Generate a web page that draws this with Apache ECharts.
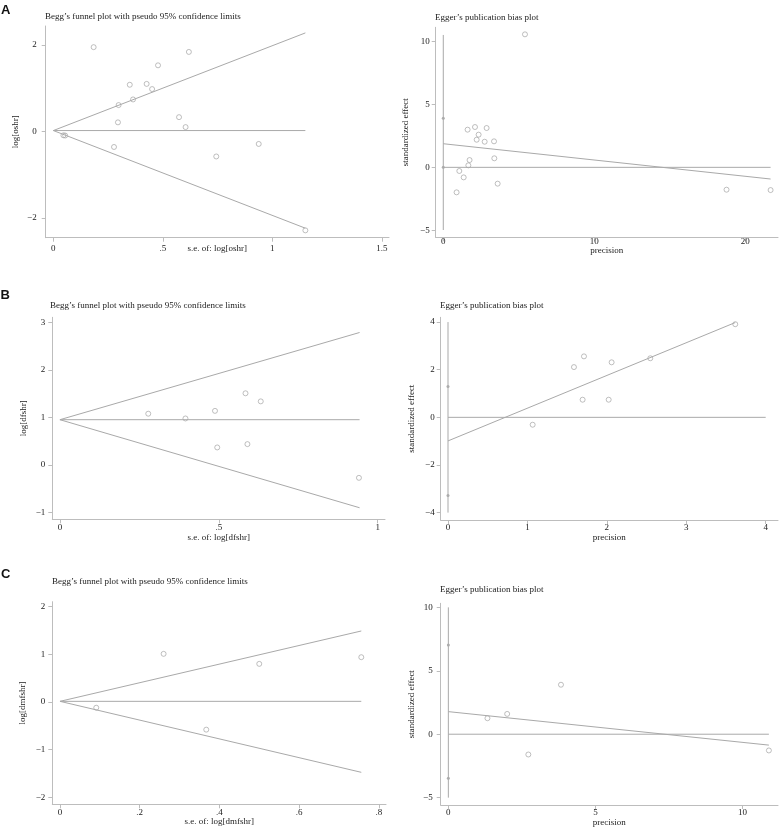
<!DOCTYPE html>
<html><head><meta charset="utf-8">
<script src="https://cdn.jsdelivr.net/npm/echarts@6/dist/echarts.min.js"></script>
<style>html,body{margin:0;padding:0;background:#fff}#c{width:779px;height:828px}</style>
</head><body><div id="c"></div>
<script>
// ---------- DATA ----------
// Panel A – Begg's funnel (OS)
const A_se    = [0.184, 0.619, 0.478, 0.349, 0.426, 0.451, 0.364, 0.298, 0.574, 0.295, 0.604, 0.046, 0.054, 0.277, 0.744, 0.938, 1.151];
const A_logHR = [1.95, 1.84, 1.53, 1.08, 1.10, 0.98, 0.74, 0.61, 0.33, 0.21, 0.10, -0.09, -0.095, -0.36, -0.58, -0.29, -2.29];
const A_funnelUpper  = [[0, 0.02], [1.151, 2.28]];
const A_funnelLower  = [[0, 0.02], [1.151, -2.24]];
const A_funnelCenter = [[0, 0.02], [1.151, 0.02]];
// Panel A – Egger
const A_prec = [5.41, 1.61, 2.10, 2.87, 2.34, 2.21, 2.74, 3.36, 1.74, 3.38, 1.66, 1.06, 1.35, 0.88, 3.60, 18.76, 21.68];
const A_std  = [10.59, 3.00, 3.21, 3.13, 2.60, 2.20, 2.04, 2.07, 0.58, 0.72, 0.16, -0.29, -0.80, -1.99, -1.30, -1.78, -1.81];
const A_eggReg   = [[0, 1.88], [21.68, -0.93]];
const A_eggZero  = [[0, 0], [21.68, 0]];
const A_eggCI    = [[0, -4.99], [0, 10.54]];
const A_eggDots  = [[0, 3.9], [0, 0]];

// Panel B – Begg's funnel (DFS)
const B_se    = [0.278, 0.395, 0.488, 0.584, 0.632, 0.495, 0.590, 0.941];
const B_logHR = [1.08, 0.98, 1.14, 1.51, 1.34, 0.37, 0.44, -0.27];
const B_funnelUpper  = [[0, 0.954], [0.943, 2.79]];
const B_funnelLower  = [[0, 0.954], [0.943, -0.90]];
const B_funnelCenter = [[0, 0.954], [0.943, 0.954]];
// Panel B – Egger
const B_prec = [3.617, 2.547, 2.06, 1.712, 1.586, 2.023, 1.695, 1.066];
const B_std  = [3.91, 2.48, 2.31, 2.56, 2.11, 0.74, 0.74, -0.31];
const B_eggReg  = [[0, -0.99], [3.617, 3.98]];
const B_eggZero = [[0, 0], [4.0, 0]];
const B_eggCI   = [[0, -4], [0, 4]];
const B_eggDots = [[0, 1.29], [0, -3.28]];

// Panel C – Begg's funnel (DMFS)
const C_se    = [0.260, 0.500, 0.756, 0.091, 0.367];
const C_logHR = [1.01, 0.80, 0.94, -0.12, -0.58];
const C_funnelUpper  = [[0, 0.014], [0.756, 1.49]];
const C_funnelLower  = [[0, 0.014], [0.756, -1.475]];
const C_funnelCenter = [[0, 0.014], [0.756, 0.014]];
// Panel C – Egger
const C_prec = [3.83, 2.0, 1.33, 10.90, 2.72];
const C_std  = [3.90, 1.60, 1.26, -1.28, -1.60];
const C_eggReg  = [[0, 1.78], [10.9, -0.86]];
const C_eggZero = [[0, 0], [10.9, 0]];
const C_eggCI   = [[0, -5], [0, 10]];
const C_eggDots = [[0, 7.04], [0, -3.48]];

// tick values
const A_funnelXTicks = [0, 0.5, 1, 1.5], A_funnelYTicks = [-2, 0, 2];
const A_eggXTicks = [0, 10, 20],         A_eggYTicks = [-5, 0, 5, 10];
const B_funnelXTicks = [0, 0.5, 1],      B_funnelYTicks = [-1, 0, 1, 2, 3];
const B_eggXTicks = [0, 1, 2, 3, 4],     B_eggYTicks = [-4, -2, 0, 2, 4];
const C_funnelXTicks = [0, 0.2, 0.4, 0.6, 0.8], C_funnelYTicks = [-2, -1, 0, 1, 2];
const C_eggXTicks = [0, 5, 10],          C_eggYTicks = [-5, 0, 5, 10];

const BEGG_TITLE = 'Begg\u2019s funnel plot with pseudo 95% confidence limits';
const EGG_TITLE = 'Egger\u2019s publication bias plot';

// ---------- STYLE ----------
const FONT = 'Liberation Serif';
const FS = 9;
const TXT = '#222';
const AX = '#bdbdbd';
const LN = '#a9a9a9';
const MK = '#9a9a9a';

function fmt(v) {
  const a = Math.abs(+(+v).toFixed(6));
  const s = String(a).replace(/^0\./, '.');
  return (v < 0 ? '\u2212' : '') + s;
}
const pairs = (xs, ys) => xs.map((x, i) => [x, ys[i]]);

const panels = [
  { grid: {left: 45.7, top: 26, width: 343.3, height: 211.7}, title: BEGG_TITLE, tl: [45, 11.5],
    x: {min: -0.035, max: 1.533, ticks: A_funnelXTicks, name: 's.e. of: log[oshr]', gap: 6, margin: 6},
    y: {min: -2.46, max: 2.44, ticks: A_funnelYTicks, name: 'log[oshr]', gap: 26, margin: 9},
    pts: pairs(A_se, A_logHR), lines: [A_funnelUpper, A_funnelLower, A_funnelCenter], dots: [] },
  { grid: {left: 435.7, top: 27.3, width: 342.3, height: 210}, title: EGG_TITLE, tl: [435, 12.2],
    x: {min: -0.503, max: 22.17, ticks: A_eggXTicks, name: 'precision', gap: 9, margin: 0},
    y: {min: -5.57, max: 11.15, ticks: A_eggYTicks, name: 'standardized effect', gap: 26, margin: 6},
    pts: pairs(A_prec, A_std), lines: [A_eggReg, A_eggZero, A_eggCI], dots: A_eggDots },
  { grid: {left: 52.3, top: 317.3, width: 332.7, height: 202}, title: BEGG_TITLE, tl: [50, 300.5],
    x: {min: -0.024, max: 1.023, ticks: B_funnelXTicks, name: 's.e. of: log[dfshr]', gap: 14, margin: 4},
    y: {min: -1.143, max: 3.11, ticks: B_funnelYTicks, name: 'log[dfshr]', gap: 24.5, margin: 7},
    pts: pairs(B_se, B_logHR), lines: [B_funnelUpper, B_funnelLower, B_funnelCenter], dots: [] },
  { grid: {left: 440.7, top: 317.3, width: 337.3, height: 202.7}, title: EGG_TITLE, tl: [440, 300.5],
    x: {min: -0.092, max: 4.155, ticks: B_eggXTicks, name: 'precision', gap: 13.5, margin: 3.5},
    y: {min: -4.31, max: 4.2, ticks: B_eggYTicks, name: 'standardized effect', gap: 24.5, margin: 6},
    pts: pairs(B_prec, B_std), lines: [B_eggReg, B_eggZero, B_eggCI], dots: B_eggDots },
  { grid: {left: 52.3, top: 601.7, width: 333.7, height: 202.6}, title: BEGG_TITLE, tl: [52, 576.5],
    x: {min: -0.0193, max: 0.818, ticks: C_funnelXTicks, name: 's.e. of: log[dmfshr]', gap: 13, margin: 4},
    y: {min: -2.146, max: 2.104, ticks: C_funnelYTicks, name: 'log[dmfshr]', gap: 25, margin: 7},
    pts: pairs(C_se, C_logHR), lines: [C_funnelUpper, C_funnelLower, C_funnelCenter], dots: [] },
  { grid: {left: 440.7, top: 603.3, width: 337.3, height: 202.4}, title: EGG_TITLE, tl: [440, 584.5],
    x: {min: -0.26, max: 11.21, ticks: C_eggXTicks, name: 'precision', gap: 13, margin: 3},
    y: {min: -5.58, max: 10.32, ticks: C_eggYTicks, name: 'standardized effect', gap: 24.5, margin: 8},
    pts: pairs(C_prec, C_std), lines: [C_eggReg, C_eggZero, C_eggCI], dots: C_eggDots }
];

const textStyle = {fontFamily: FONT, fontSize: FS, color: TXT};
const option = {
  animation: false,
  backgroundColor: '#fff',
  title: [], grid: [], xAxis: [], yAxis: [], series: []
};

panels.forEach((p, i) => {
  option.grid.push(Object.assign({containLabel: false}, p.grid));
  option.title.push({text: p.title, left: p.tl[0], top: p.tl[1], padding: 0,
    textStyle: {fontFamily: FONT, fontSize: FS, fontWeight: 'normal', color: TXT, lineHeight: 10}});
  const ax = (L) => ({
    type: 'value', gridIndex: i, min: L.min, max: L.max,
    name: L.name, nameLocation: 'middle', nameGap: L.gap, nameTextStyle: textStyle,
    nameMoveOverlap: false,
    axisLine: {show: true, onZero: false, lineStyle: {color: AX, width: 1}},
    axisTick: {show: true, length: 4, customValues: L.ticks, lineStyle: {color: AX, width: 1}},
    axisLabel: {customValues: L.ticks, formatter: fmt, margin: L.margin, hideOverlap: false,
      fontFamily: FONT, fontSize: FS, color: TXT},
    splitLine: {show: false}
  });
  option.xAxis.push(ax(p.x));
  option.yAxis.push(ax(p.y));
  p.lines.forEach(l => option.series.push({
    type: 'line', xAxisIndex: i, yAxisIndex: i, data: l, showSymbol: false, silent: true,
    lineStyle: {color: LN, width: 1}
  }));
  if (p.dots.length) option.series.push({
    type: 'scatter', xAxisIndex: i, yAxisIndex: i, data: p.dots, symbol: 'circle', symbolSize: 3,
    itemStyle: {color: MK}, silent: true
  });
  option.series.push({
    type: 'scatter', xAxisIndex: i, yAxisIndex: i, data: p.pts, symbol: 'circle', symbolSize: 5,
    itemStyle: {color: 'rgba(255,255,255,0)', borderColor: MK, borderWidth: 0.8}, silent: true
  });
});

// panel letters
[['A', 1, 3.5], ['B', 0.5, 289], ['C', 1, 568]].forEach(([t, l, tp]) => option.title.push({
  text: t, left: l, top: tp, padding: 0,
  textStyle: {fontFamily: 'Liberation Sans', fontSize: 13, fontWeight: 'bold', color: '#111'}
}));

const chart = echarts.init(document.getElementById('c'), null, {renderer: 'canvas'});
chart.setOption(option);
</script>
</body></html>
